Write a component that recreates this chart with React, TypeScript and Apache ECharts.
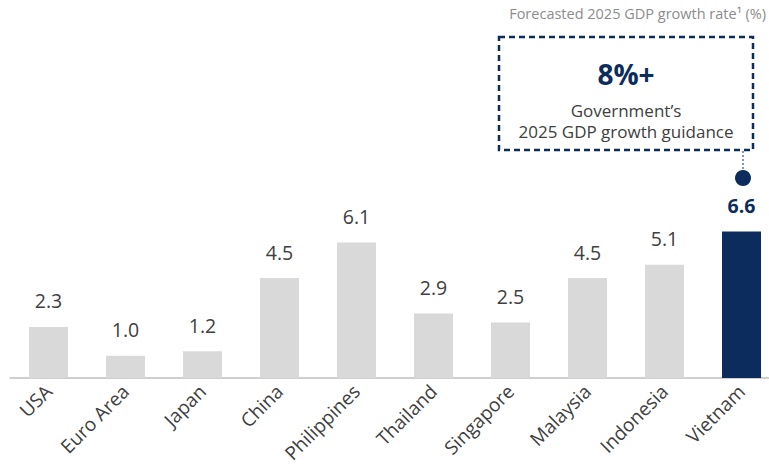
import React, { useEffect, useRef } from "react";
import * as echarts from "echarts";

const categories = ["USA", "Euro Area", "Japan", "China", "Philippines", "Thailand", "Singapore", "Malaysia", "Indonesia", "Vietnam"];
const growth = [2.3, 1.0, 1.2, 4.5, 6.1, 2.9, 2.5, 4.5, 5.1, 6.6];
const highlight = "Vietnam";
const guidanceValue = "8%+";
const guidanceLines = ["Government’s", "2025 GDP growth guidance"];
const titleText = "Forecasted 2025 GDP growth rate¹ (%)";

const NAVY = "#0d2c5e";
const GRAY = "#d9d9d9";
const TEXT = "#404040";
const FONT = "'Open Sans', 'Noto Sans', sans-serif";

export default function App() {
  const ref = useRef<HTMLDivElement>(null);
  useEffect(() => {
    if (!ref.current) return;
    const chart = echarts.init(ref.current, undefined, { renderer: "svg" });
    const data = growth.map((v, i) => {
      const hi = categories[i] === highlight;
      return {
        value: v,
        itemStyle: { color: hi ? NAVY : GRAY },
        label: hi ? { color: NAVY, fontWeight: "bold" } : undefined,
      };
    });
    chart.setOption({
      animation: false,
      textStyle: { fontFamily: FONT },
      grid: { left: 10, right: 0, top: 156, height: 222, containLabel: false },
      xAxis: {
        type: "category",
        data: categories,
        axisLine: { lineStyle: { color: "#bfbfbf", width: 1.5 } },
        axisTick: { show: false },
        axisLabel: { rotate: 45, color: TEXT, fontSize: 19, fontFamily: FONT, margin: 10, interval: 0 },
      },
      yAxis: { type: "value", min: 0, max: 10, show: false, splitLine: { show: false } },
      series: [
        {
          type: "bar",
          data,
          barWidth: 39,
          label: { show: true, position: "top", distance: 16, fontSize: 19.5, color: TEXT, fontFamily: FONT, formatter: (p: any) => Number(p.value).toFixed(1) },
        },
      ],
      graphic: [
        { type: "text", right: 14, top: 6, style: { text: titleText, fill: "#8c8c8c", fontSize: 14.5, fontFamily: FONT } },
        { type: "rect", shape: { x: 499, y: 37, width: 254, height: 113 }, style: { fill: "none", stroke: NAVY, lineWidth: 2.5, lineDash: [6, 4] } },
        { type: "text", x: 626, y: 74, style: { text: guidanceValue, fill: NAVY, fontSize: 28, fontWeight: "bold", fontFamily: FONT, align: "center", verticalAlign: "middle" } },
        { type: "text", x: 626, y: 110, style: { text: guidanceLines[0], fill: TEXT, fontSize: 17, fontFamily: FONT, align: "center", verticalAlign: "middle" } },
        { type: "text", x: 626, y: 131, style: { text: guidanceLines[1], fill: TEXT, fontSize: 17, fontFamily: FONT, align: "center", verticalAlign: "middle" } },
        { type: "line", shape: { x1: 743, y1: 151, x2: 743, y2: 171 }, style: { stroke: NAVY, lineWidth: 1, lineDash: [2, 2] } },
        { type: "circle", shape: { cx: 743, cy: 178, r: 8 }, style: { fill: NAVY } },
      ],
    });
    return () => chart.dispose();
  }, []);
  return (
    <div style={{ width: 769, height: 467, position: "absolute", left: 0, top: 0, overflow: "hidden" }}>
      <div ref={ref} style={{ width: 780, height: 467 }} />
    </div>
  );
}
